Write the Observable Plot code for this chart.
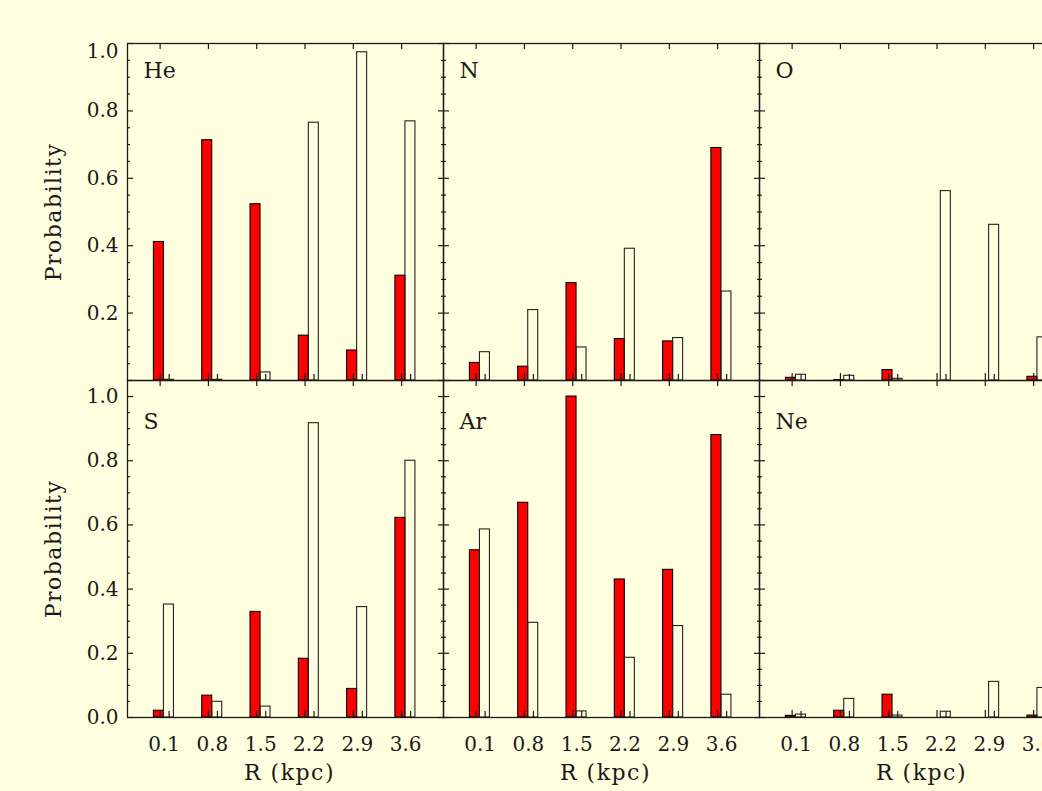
<!DOCTYPE html>
<html>
<head>
<meta charset="utf-8">
<script src="https://cdn.jsdelivr.net/npm/d3@7"></script>
<script src="https://cdn.jsdelivr.net/npm/@observablehq/plot@0.6"></script>
<style>
  html, body { margin: 0; padding: 0; background: #ffffe0; overflow: hidden; width: 1042px; height: 791px; }
  #wrap { position: relative; width: 1042px; height: 791px; overflow: hidden; }
  #wrap svg { position: absolute; left: 0; }
</style>
</head>
<body>
<div id="wrap"></div>
<script>
// ---- data ----
const radii = [0.1, 0.8, 1.5, 2.2, 2.9, 3.6];
const radiusLabels = ["0.1", "0.8", "1.5", "2.2", "2.9", "3.6"];
const topElements = ["He", "N", "O"];
const bottomElements = ["S", "Ar", "Ne"];
const xTitle = "R (kpc)";
const yTitle = "Probability";

const heRed   = [0.411, 0.713, 0.523, 0.133, 0.089, 0.311];
const heWhite = [0.002, 0.002, 0.024, 0.765, 0.974, 0.769];
const nRed    = [0.052, 0.041, 0.289, 0.123, 0.116, 0.690];
const nWhite  = [0.084, 0.209, 0.098, 0.391, 0.126, 0.264];
const oRed    = [0.008, 0.001, 0.031, 0.000, 0.000, 0.011];
const oWhite  = [0.017, 0.014, 0.005, 0.562, 0.462, 0.128];
const sRed    = [0.021, 0.068, 0.329, 0.183, 0.089, 0.622];
const sWhite  = [0.352, 0.049, 0.034, 0.917, 0.344, 0.800];
const arRed   = [0.521, 0.669, 1.000, 0.430, 0.460, 0.880];
const arWhite = [0.586, 0.295, 0.019, 0.186, 0.285, 0.071];
const neRed   = [0.005, 0.021, 0.071, 0.000, 0.000, 0.006];
const neWhite = [0.009, 0.058, 0.006, 0.018, 0.111, 0.092];

const yTicksTop = [0.2, 0.4, 0.6, 0.8];
const yTicksTopEdge = [1.0];
const yTicksBottom = [0.0, 0.2, 0.4, 0.6, 0.8, 1.0];
const yMajorTicks = [0.0, 0.2, 0.4, 0.6, 0.8, 1.0];
const yMinorTicks = [0.05, 0.1, 0.15, 0.25, 0.3, 0.35, 0.45, 0.5, 0.55, 0.65, 0.7, 0.75, 0.85, 0.9, 0.95];

// ---- tables ----
function rows(el, red, white) {
  return radii.flatMap((r, i) => [
    {el, R: r, kind: "red", v: red[i]},
    {el, R: r, kind: "white", v: white[i]}
  ]);
}
const topTable = [...rows("He", heRed, heWhite), ...rows("N", nRed, nWhite), ...rows("O", oRed, oWhite)];
const bottomTable = [...rows("S", sRed, sWhite), ...rows("Ar", arRed, arWhite), ...rows("Ne", neRed, neWhite)];

// ---- style ----
const ink = "#1a1a1a";
const xDomain = [-0.373, 4.207];
const redLeft = 0.09, split = 0.055, whiteRight = 0.20;
const fmt = d3.format(".1f");

function row(elements, table, yDomain, opts) {
  return Plot.plot({
    width: 1076,
    height: opts.height,
    marginLeft: 126,
    marginRight: 0,
    marginTop: opts.marginTop,
    marginBottom: opts.marginBottom,
    style: {background: "transparent", maxWidth: "none", overflow: "visible", fontFamily: "DejaVu Serif", fontSize: "20px", color: ink},
    x: {domain: xDomain, axis: null},
    y: {domain: yDomain, axis: null},
    fx: {domain: elements, padding: 0, axis: null},
    marks: [
      Plot.rectY(table.filter(d => d.kind === "red"), {fx: "el", x1: d => d.R - redLeft, x2: d => d.R + split, y: "v", fill: "#ff0000", stroke: "#000", strokeWidth: 1.1}),
      Plot.rectY(table.filter(d => d.kind === "white"), {fx: "el", x1: d => d.R + split, x2: d => d.R + whiteRight, y: "v", fill: "none", stroke: "#222", strokeWidth: 1.1}),
      Plot.frame({stroke: ink, strokeWidth: 1.3}),
      Plot.axisY(opts.yTicks, {anchor: "left", tickSize: 0, tickPadding: 9, tickFormat: fmt, fill: ink,
        label: yTitle, labelAnchor: "center", labelOffset: 82, labelArrow: "none"}),
      ...(opts.yTicksEdge ? [
        Plot.axisY(opts.yTicksEdge, {anchor: "left", tickSize: 0, tickPadding: 9, tickFormat: fmt, fill: ink, dy: 8, label: null})
      ] : []),
      Plot.axisY(yMajorTicks, {anchor: "left", facetAnchor: null, tickSize: -6, fill: "none", stroke: ink, strokeWidth: 1.2}),
      Plot.axisY(yMajorTicks, {anchor: "right", facetAnchor: null, tickSize: -6, fill: "none", stroke: ink, strokeWidth: 1.2}),
      Plot.axisY(yMinorTicks, {anchor: "left", facetAnchor: null, tickSize: -3, fill: "none", stroke: ink, strokeWidth: 1.2}),
      Plot.axisY(yMinorTicks, {anchor: "right", facetAnchor: null, tickSize: -3, fill: "none", stroke: ink, strokeWidth: 1.2}),
      Plot.axisX(radii, {anchor: "top", facetAnchor: null, tickSize: -5, fill: "none", stroke: ink, strokeWidth: 1.2}),
      Plot.axisX(radii, {anchor: "bottom", facetAnchor: null, tickSize: -7, fill: "none", stroke: ink, strokeWidth: 1.2}),
      Plot.axisX(radii, {anchor: "bottom", facetAnchor: null, tickSize: -6, dx: 9, fill: "none", stroke: ink, strokeWidth: 1.2}),
      ...(opts.xLabels ? [
        Plot.axisX(radii, {anchor: "bottom", facetAnchor: null, tickSize: 0, tickPadding: 19, dx: 4,
          tickFormat: (d, i) => radiusLabels[i], fill: ink, label: null}),
        Plot.text(elements, {fx: d => d, text: () => xTitle, frameAnchor: "bottom", dx: 4, dy: 62,
          lineAnchor: "bottom", fontSize: 22, fill: ink})
      ] : []),
      Plot.text(elements, {fx: d => d, text: d => d, frameAnchor: "top-left", dx: 16, dy: opts.nameDy,
        lineAnchor: "bottom", textAnchor: "start", fontSize: 22, fill: ink})
    ]
  });
}

const wrap = document.getElementById("wrap");
const topRow = row(topElements, topTable, [0, 1], {height: 400, marginTop: 43, marginBottom: 20, nameDy: 34, xLabels: false, yTicks: yTicksTop, yTicksEdge: yTicksTopEdge});
const bottomRow = row(bottomElements, bottomTable, [0, 1.05], {height: 431, marginTop: 20, marginBottom: 74, nameDy: 48, xLabels: true, yTicks: yTicksBottom});
topRow.style.top = "0px";
bottomRow.style.top = "360px";
wrap.appendChild(topRow);
wrap.appendChild(bottomRow);

for (const svg of [topRow, bottomRow]) {
  svg.querySelectorAll("text").forEach(t => {
    if (t.textContent === xTitle || t.textContent === yTitle) {
      t.style.fontSize = "22px";
      t.style.letterSpacing = "1.5px";
    }
  });
}
</script>
</body>
</html>
